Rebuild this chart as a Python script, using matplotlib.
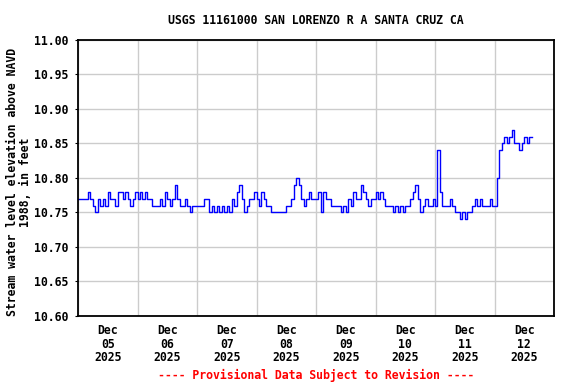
import numpy as np
import pandas as pd
import matplotlib
matplotlib.use('Agg')
import matplotlib.pyplot as plt
import matplotlib.dates as mdates

# hourly gage height readings (ft above NAVD 1988), each day starts at 00:00
dec05 = [10.77,10.77,10.77,10.77,10.78,10.77,10.76,10.75,10.77,10.76,10.77,10.76,
         10.78,10.77,10.77,10.76,10.78,10.78,10.77,10.78,10.77,10.76,10.77,10.78]
dec06 = [10.77,10.78,10.77,10.78,10.77,10.77,10.76,10.76,10.76,10.77,10.76,10.78,
         10.77,10.76,10.77,10.79,10.77,10.76,10.76,10.77,10.76,10.75,10.76,10.76]
dec07 = [10.76,10.76,10.76,10.77,10.77,10.75,10.76,10.75,10.76,10.75,10.76,10.75,
         10.76,10.75,10.77,10.76,10.78,10.79,10.77,10.75,10.76,10.77,10.77,10.78]
dec08 = [10.77,10.76,10.78,10.77,10.76,10.76,10.75,10.75,10.75,10.75,10.75,10.75,
         10.76,10.76,10.77,10.79,10.80,10.79,10.77,10.76,10.77,10.78,10.77,10.77]
dec09 = [10.77,10.78,10.75,10.78,10.77,10.77,10.76,10.76,10.76,10.76,10.75,10.76,
         10.75,10.77,10.76,10.78,10.77,10.77,10.79,10.78,10.77,10.76,10.77,10.77]
dec10 = [10.78,10.77,10.78,10.77,10.76,10.76,10.76,10.75,10.76,10.75,10.76,10.75,
         10.76,10.76,10.77,10.78,10.79,10.77,10.75,10.76,10.77,10.76,10.76,10.77]
dec11 = [10.76,10.84,10.78,10.76,10.76,10.76,10.77,10.76,10.75,10.75,10.74,10.75,
         10.74,10.75,10.75,10.76,10.77,10.76,10.77,10.76,10.76,10.76,10.77,10.76]
dec12 = [10.76,10.80,10.84,10.85,10.86,10.85,10.86,10.87,10.85,10.85,10.84,10.85,
         10.86,10.85,10.86,10.86]

yticks = [10.60,10.65,10.70,10.75,10.80,10.85,10.90,10.95,11.00]

vals = dec05+dec06+dec07+dec08+dec09+dec10+dec11+dec12
times = pd.date_range('2025-12-05 00:00', periods=len(vals), freq='h')

font = 'DejaVu Sans Mono'
fs = 8.3

fig = plt.figure(figsize=(5.76,3.84), dpi=100)
ax = fig.add_axes([78/576, 1-316/384, 476/576, 276/384])

ax.plot(times, vals, color='#0000ff', lw=1.0, drawstyle='steps-post')

ax.set_xlim(pd.Timestamp('2025-12-05'), pd.Timestamp('2025-12-13'))
ax.set_ylim(10.60, 11.00)
ax.set_yticks(yticks)
ax.set_yticklabels(['%.2f' % v for v in yticks], fontfamily=font, fontsize=fs, fontweight='bold')

ax.xaxis.set_major_locator(mdates.HourLocator(byhour=[12]))
ax.xaxis.set_major_formatter(mdates.DateFormatter('%b\n%d\n%Y'))
ax.xaxis.set_minor_locator(mdates.DayLocator())
for lab in ax.get_xticklabels():
    lab.set_fontfamily(font)
ax.tick_params(axis='x', which='major', length=0, pad=6, labelsize=fs)
ax.tick_params(axis='x', which='minor', length=0)
ax.tick_params(axis='y', length=2, pad=5)
for lab in ax.get_xticklabels():
    lab.set_fontweight('bold')
    lab.set_linespacing(1.05)

ax.grid(True, which='minor', axis='x', color='#cccccc', lw=1)
ax.grid(True, which='major', axis='y', color='#cccccc', lw=1)
ax.set_axisbelow(True)
for s in ax.spines.values():
    s.set_linewidth(1.3)

fig.text(316/576, 1-20/384, 'USGS 11161000 SAN LORENZO R A SANTA CRUZ CA',
         ha='center', va='center', fontfamily=font, fontsize=fs, fontweight='bold')
fig.text(19/576, 1-182/384, 'Stream water level elevation above NAVD\n1988, in feet',
         rotation=90, ha='center', va='center', multialignment='center',
         fontfamily=font, fontsize=fs, fontweight='bold', linespacing=1.0)
fig.text(316/576, 1-375/384, '---- Provisional Data Subject to Revision ----',
         ha='center', va='center', color='red', fontfamily=font, fontsize=fs, fontweight='bold')

fig.savefig('out.png', dpi=100)
